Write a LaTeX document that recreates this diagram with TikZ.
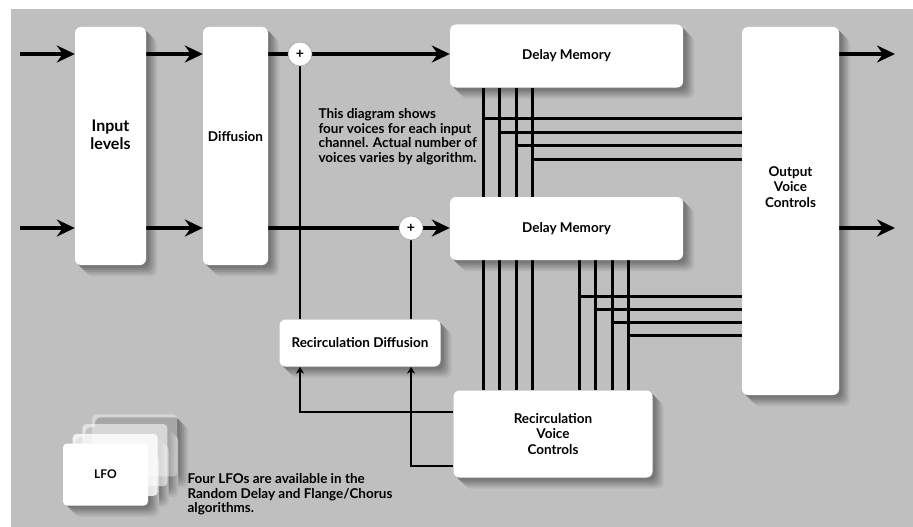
\documentclass[tikz,border=0pt]{standalone}
\usepackage{fontspec}
\setmainfont{Lato}
\usetikzlibrary{positioning,arrows.meta}
\definecolor{panel}{RGB}{191,191,191}
\definecolor{shA}{RGB}{179,179,179}
\definecolor{shB}{RGB}{164,164,164}
\definecolor{shC}{RGB}{149,149,149}
\definecolor{shD}{RGB}{134,134,134}
\definecolor{shE}{RGB}{120,120,120}
\pgfdeclarelayer{bg}
\pgfsetlayers{bg,main}
\tikzset{
  blk/.style={fill=white, rounded corners=6pt, align=center,
    font=\bfseries\fontsize{13.5}{15.5}\selectfont},
  shd/.style={fill=#1, rounded corners=6pt, inner sep=0pt},
  tag/.style={align=center, font=\bfseries\fontsize{13.5}{15.5}\selectfont},
  sum/.style={circle, fill=white, draw=black!35, line width=0.6pt, minimum size=24pt, inner sep=0pt,
    font=\bfseries\fontsize{14}{14}\selectfont},
  card/.style={blk, rounded corners=4pt, minimum width=85pt, minimum height=62pt,
    font=\bfseries\fontsize{12}{14}\selectfont},
  note/.style={anchor=north west, align=left, font=\bfseries\fontsize{13.5}{14.5}\selectfont},
  sig/.style={line width=3.8pt},
  sigarr/.style={sig, -{Stealth[length=18pt, width=17pt, inset=6pt]}},
  voice/.style={line width=3pt},
  fb/.style={line width=2.6pt},
  fbarr/.style={fb, -{Stealth[length=7pt, width=8pt]}}
}
% soft shadow under a box: name, x, y, width, height
\newcommand\boxshade[5]{%
  \foreach \d/\tone in {11/shA,9/shB,7/shC,5/shD,3/shE}
    \node[shd=\tone, minimum width=#4pt, minimum height=#5pt] (#1sh\d) at (#2+\d,#3+\d) {};
}

\begin{document}
\begin{tikzpicture}[x=1pt, y=-1pt]
  \useasboundingbox (0,0) rectangle (913,527);
  \begin{pgfonlayer}{bg}
    \fill[panel] (11,9) rectangle (913,527);
    \boxshade{inlev}{110.5}{146}{71}{238}
    \boxshade{diff}{235.5}{146}{65}{238}
    \boxshade{dmA}{566.5}{56}{233}{63}
    \boxshade{dmB}{566.5}{228.5}{233}{63}
    \boxshade{ovc}{790.5}{211}{97}{368}
    \boxshade{rdif}{360}{343}{161}{47}
    \boxshade{rvc}{553}{434}{199}{87}
    \foreach \k in {3,2,1,0} {
      \boxshade{lfo\k}{105.5+9.7*\k}{474.5-9.7*\k}{85}{62}
    }
  \end{pgfonlayer}

  \node[blk, minimum width=71pt, minimum height=238pt,
    label={[tag, font=\bfseries\fontsize{16}{17.5}\selectfont, yshift=11pt]center:Input\\levels}] (inlev) at (110.5,146) {};
  \node[blk, minimum width=65pt, minimum height=238pt,
    label={[tag, yshift=9pt]center:Diffusion}] (diff) at (235.5,146) {};
  \node[sum] (sumA) at (300,54) {+};
  \node[sum] (sumB) at (411,228) {+};
  \node[blk, minimum width=233pt, minimum height=63pt] (dmA) at (566.5,56) {Delay Memory};
  \node[blk, minimum width=233pt, minimum height=63pt] (dmB) at (566.5,228.5) {Delay Memory};
  \node[blk, minimum width=97pt, minimum height=368pt,
    label={[tag, yshift=24pt]center:Output\\Voice\\Controls}] (ovc) at (790.5,211) {};
  \node[blk, minimum width=161pt, minimum height=47pt] (rdif) at (360,343) {Recirculation Diffusion};
  \node[blk, minimum width=199pt, minimum height=87pt] (rvc) at (553,434) {Recirculation\\Voice\\Controls};

  \foreach \k/\op in {3/0.35,2/0.55,1/0.8}
    \node[card, fill opacity=\op] (lfo\k) at (105.5+9.7*\k,474.5-9.7*\k) {};
  \node[card] (lfo0) at (105.5,474.5) {LFO};

  \node[note] (info) at (315,105) {This diagram shows\\four voices for each input\\channel. Actual number of\\voices varies by algorithm.};
  \node[note] (lfonote) at (184,470) {Four LFOs are available in the\\Random Delay and Flange/Chorus\\algorithms.};

  \coordinate (inA) at (20,54);
  \coordinate (inB) at (20,228);
  \coordinate (outA) at (895,54);
  \coordinate (outB) at (895,228);

  \begin{pgfonlayer}{bg}
    \draw[sigarr] (inA) -- (inA -| inlev.west);
    \draw[sigarr] (inB) -- (inB -| inlev.west);
    \draw[sigarr] (inlev.east |- inA) -- (diff.west |- inA);
    \draw[sigarr] (inlev.east |- inB) -- (diff.west |- inB);
    \draw[sig] (diff.east |- inA) -- (sumA);
    \draw[sig] (diff.east |- inB) -- (sumB);
    \draw[sigarr] (sumA) -- (sumA -| dmA.west);
    \draw[sigarr] (sumB) -- (sumB -| dmB.west);
    \draw[sigarr] (ovc.east |- outA) -- (outA);
    \draw[sigarr] (ovc.east |- outB) -- (outB);

    \draw[fb] (sumA) -- (sumA |- rdif.north);
    \draw[fb] (sumB) -- (sumB |- rdif.north);
    \draw[fbarr] (rvc.west |- 0,412) -| (sumA |- rdif.south);
    \draw[fbarr] (rvc.west |- 0,466) -| (sumB |- rdif.south);

    \foreach \x/\y in {483/118, 499/132, 516/145, 532/159} {
      \draw[voice] (dmA.south -| \x,0) -- (rvc.north -| \x,0);
      \draw[voice] (\x,\y) -- (ovc.west |- 0,\y);
    }
    \foreach \x/\y in {579/296, 595/309, 612/322, 628/335} {
      \draw[voice] (dmB.south -| \x,0) -- (rvc.north -| \x,0);
      \draw[voice] (\x,\y) -- (ovc.west |- 0,\y);
    }
  \end{pgfonlayer}
\end{tikzpicture}
\end{document}
